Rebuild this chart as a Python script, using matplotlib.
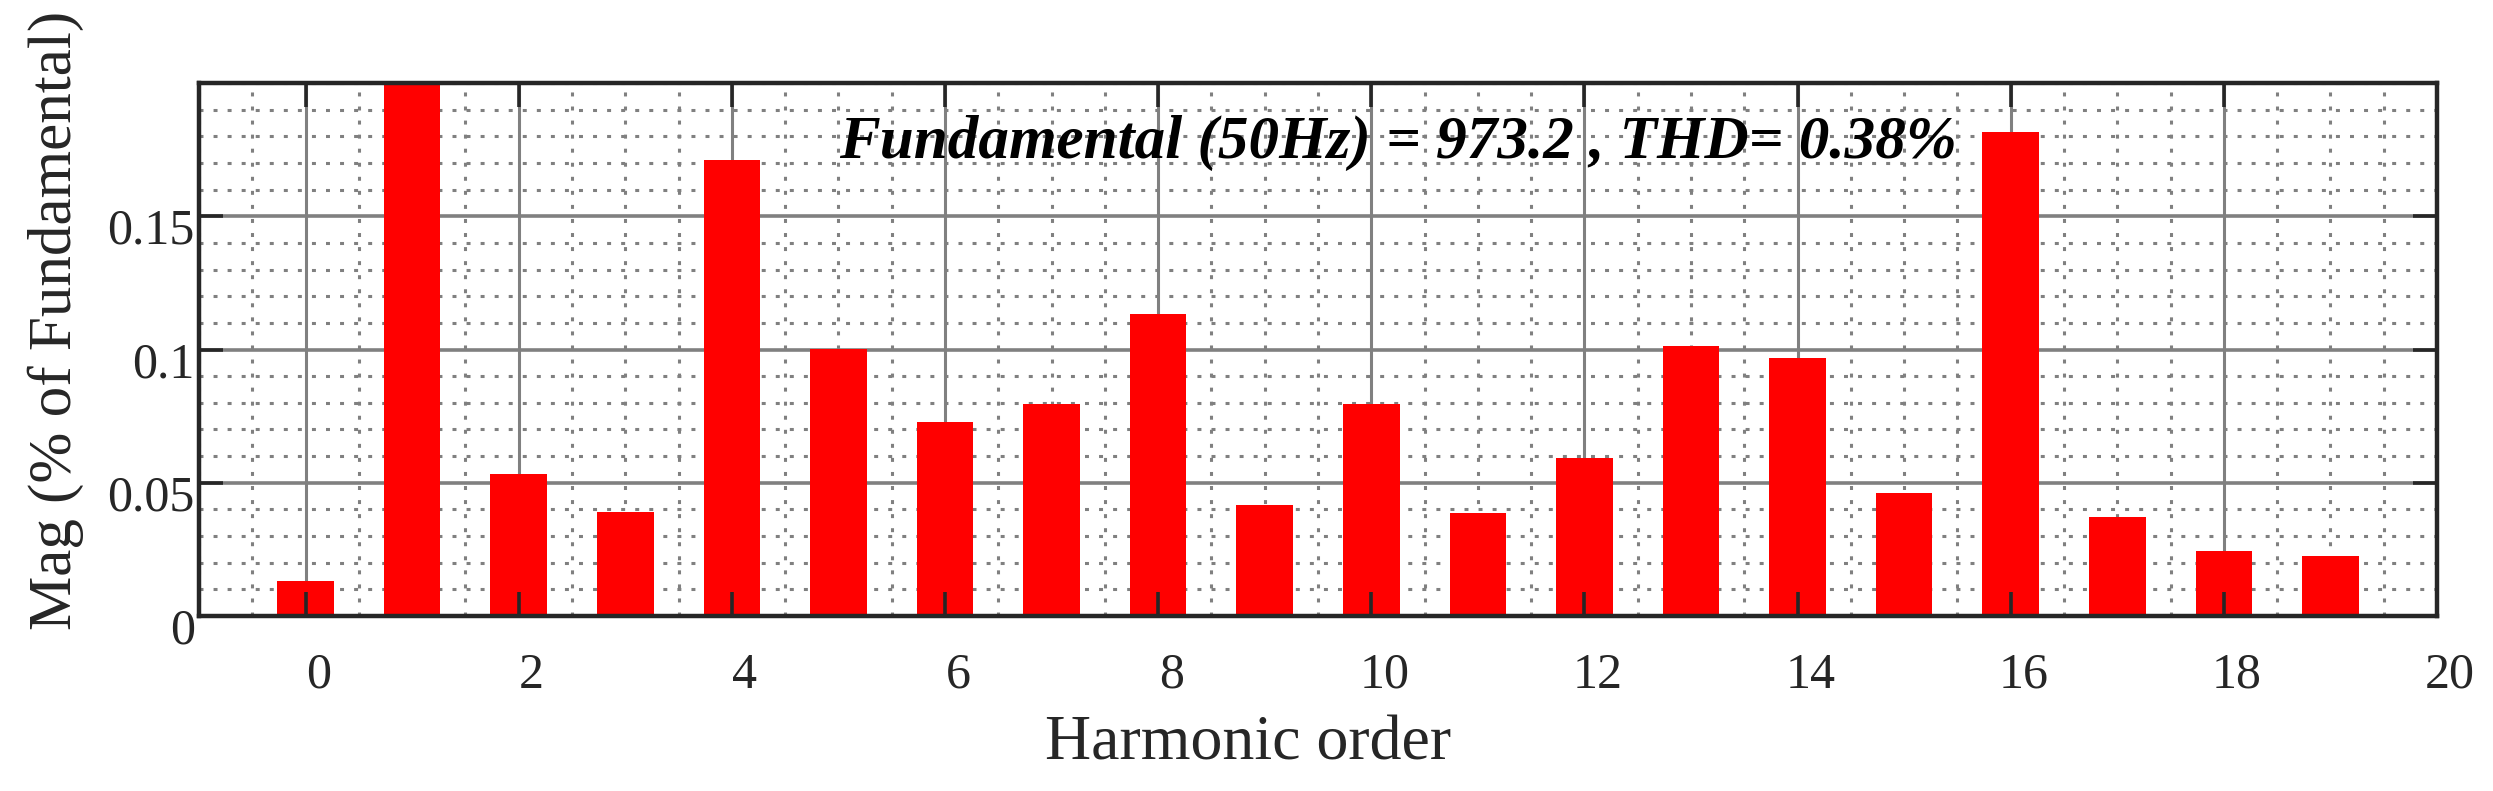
import numpy as np
import matplotlib
matplotlib.use("Agg")
import matplotlib.pyplot as plt
from matplotlib.ticker import MultipleLocator
from matplotlib.transforms import ScaledTranslation

# harmonic spectrum
orders = list(range(20))
mags = [0.0133, 0.203, 0.0532, 0.0389, 0.1711, 0.1002, 0.0729, 0.0794, 0.1133, 0.0415,
        0.0794, 0.0385, 0.0592, 0.1012, 0.0969, 0.0463, 0.1818, 0.0372, 0.0244, 0.0226]
xticks = list(range(0, 21, 2))
yticks = [0, 0.05, 0.1, 0.15]
yticklabels = ["0", "0.05", "0.1", "0.15"]
note = "Fundamental (50Hz) = 973.2 , THD= 0.38%"

plt.rcParams['font.family'] = ['Liberation Serif', 'DejaVu Serif']

W, H = 2493, 791
fig = plt.figure(figsize=(W / 100, H / 100), dpi=100)
ax = fig.add_axes([199 / W, 1 - 616 / H, (2437 - 199) / W, (616 - 83) / H])

ax.bar(orders, mags, width=0.53, color='#ff0000', zorder=1)

ax.set_xlim(-1, 20)
ax.set_ylim(0, 0.2)
ax.xaxis.set_major_locator(MultipleLocator(2))
ax.xaxis.set_minor_locator(MultipleLocator(0.5))
ax.yaxis.set_major_locator(MultipleLocator(0.05))
ax.yaxis.set_minor_locator(MultipleLocator(0.01))
ax.set_xticks(xticks)
ax.set_yticks(yticks)
ax.set_yticklabels(yticklabels)

# grid drawn by hand so that it sits under the bars while ticks stay on top
gcol = '#808080'
xmin, xmax = ax.get_xlim()
ymin, ymax = ax.get_ylim()
for v in ax.xaxis.get_minorticklocs():
    ax.vlines(v, ymin, ymax, color=gcol, lw=2.2, linestyle=(0, (1.3, 3.3)), zorder=0.4)
for v in ax.yaxis.get_minorticklocs():
    ax.hlines(v, xmin, xmax, color=gcol, lw=2.2, linestyle=(0, (1.3, 3.3)), zorder=0.4)
for v in xticks:
    ax.vlines(v, ymin, ymax, color=gcol, lw=2.2, zorder=0.5)
for v in yticks[1:]:
    ax.hlines(v, xmin, xmax, color=gcol, lw=2.6, zorder=0.5)
ax.set_xlim(xmin, xmax)
ax.set_ylim(ymin, ymax)

for s in ax.spines.values():
    s.set_linewidth(3.2)
    s.set_color('#262626')
    s.set_zorder(3)

ax.tick_params(which='major', direction='in', length=17, width=2.6, color='#262626',
               top=True, right=True, labelsize=36, labelcolor='#262626')
ax.tick_params(which='minor', length=0)
ax.tick_params(axis='x', pad=26)
ax.tick_params(axis='y', pad=3)

dx = ScaledTranslation(13 / 100, 0, fig.dpi_scale_trans)
for lab in ax.get_xticklabels():
    lab.set_transform(lab.get_transform() + dx)
dy = ScaledTranslation(0, -10 / 100, fig.dpi_scale_trans)
for lab in ax.get_yticklabels():
    lab.set_transform(lab.get_transform() + dy)

ax.text(10.25, 0.1775, note, ha='center', va='center', fontsize=44,
        fontweight='bold', fontstyle='italic', color='black', zorder=4)

fig.text(1248 / W, 1 - 744 / H, "Harmonic order", ha='center', va='center',
         fontsize=46, color='#262626')
fig.text(56 / W, 1 - 320 / H, "Mag (% of Fundamental)", ha='center', va='center',
         rotation=90, fontsize=44, color='#262626')

fig.savefig("out.png", dpi=100, facecolor='white')
